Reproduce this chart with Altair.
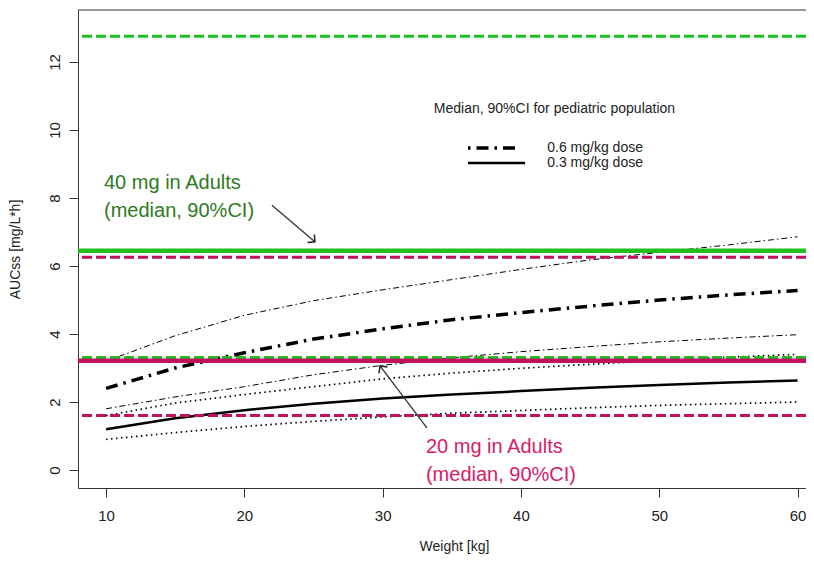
import altair as alt
import pandas as pd

# ---- data ----
weight = [10, 15, 20, 25, 30, 35, 40, 45, 50, 55, 60]
med_06 = [2.40, 3.00, 3.45, 3.85, 4.15, 4.42, 4.63, 4.82, 5.00, 5.15, 5.28]
up_06 = [3.20, 3.95, 4.55, 4.98, 5.30, 5.60, 5.90, 6.18, 6.40, 6.62, 6.86]
lo_06 = [1.80, 2.15, 2.45, 2.80, 3.08, 3.30, 3.48, 3.63, 3.77, 3.88, 3.98]
med_03 = [1.20, 1.52, 1.76, 1.95, 2.10, 2.22, 2.32, 2.42, 2.50, 2.57, 2.63]
up_03 = [1.60, 1.97, 2.22, 2.45, 2.68, 2.85, 2.99, 3.11, 3.22, 3.32, 3.40]
lo_03 = [0.90, 1.10, 1.28, 1.43, 1.56, 1.67, 1.75, 1.83, 1.90, 1.95, 2.00]

# adult reference lines
adult40_median = 6.45
adult40_ci = [3.31, 12.76]
adult20_median = 3.21
adult20_ci = [1.60, 6.26]

x_ticks = [10, 20, 30, 40, 50, 60]
y_ticks = [0, 2, 4, 6, 8, 10, 12]
x_domain = [7.97, 60.61]
y_domain = [-0.53, 13.53]

# annotation / legend anchor points (data units)
legend_title = "Median, 90%CI for pediatric population"
legend_labels = ["0.6 mg/kg dose", "0.3 mg/kg dose"]
legend_title_pos = (33.7, 10.62)
legend_rows_y = [9.47, 9.03]
legend_line_x = [36.17, 39.9]
legend_text_x = 41.9

ann40_lines = ["40 mg in Adults", "(median, 90%CI)"]
ann40_pos = (9.85, [8.44, 7.62])
ann40_arrow = [(21.99, 7.79), (25.1, 6.71)]
ann20_lines = ["20 mg in Adults", "(median, 90%CI)"]
ann20_pos = (33.13, [0.68, -0.15])
ann20_arrow = [(33.2, 1.24), (29.81, 3.06)]

GREEN = "#1fbf1f"
MAGENTA = "#c0105e"
GREEN_TXT = "#2f7a23"
PINK_TXT = "#d4206a"
FONT = "Liberation Sans"

xs = alt.Scale(domain=x_domain, nice=False, zero=False)
ys = alt.Scale(domain=y_domain, nice=False, zero=False)

X = alt.X("w:Q", scale=xs, axis=alt.Axis(values=x_ticks, title="Weight [kg]", titleX=376))
Y = alt.Y("v:Q", scale=ys, axis=alt.Axis(values=y_ticks, title="AUCss [mg/L*h]", labelAngle=270))


def curve(vals, name, width, dash=None):
    kw = dict(color="black", strokeWidth=width, clip=True)
    if dash:
        kw["strokeDash"] = dash
    df = pd.DataFrame({"w": weight, "v": vals, "s": name})
    return alt.Chart(df).mark_line(**kw).encode(x=X, y=Y)


def hline(val, color, width, dash=None):
    kw = dict(color=color, strokeWidth=width)
    if dash:
        kw["strokeDash"] = dash
    return alt.Chart(pd.DataFrame({"v": [val]})).mark_rule(**kw).encode(y=Y)


layers = [
    curve(up_06, "up06", 1, [6, 3, 1.5, 3]),
    curve(lo_06, "lo06", 1, [6, 3, 1.5, 3]),
    curve(up_03, "up03", 1.7, [1.5, 3.5]),
    curve(lo_03, "lo03", 1.7, [1.5, 3.5]),
    curve(med_06, "med06", 3.5, [12, 6, 2.5, 6]),
    curve(med_03, "med03", 2.5),
    hline(adult40_ci[1], GREEN, 3, [10, 4]),
    hline(adult40_ci[0], GREEN, 3, [10, 4]),
    hline(adult40_median, GREEN, 4.5),
    hline(adult20_ci[1], MAGENTA, 3, [10, 4]),
    hline(adult20_ci[0], MAGENTA, 3, [10, 4]),
    hline(adult20_median, MAGENTA, 4.5),
]

# top border of the plot box
layers.append(alt.Chart(pd.DataFrame({"a": [0]})).mark_rule(color="#333", strokeWidth=1).encode(
    y=alt.value(0)))

# legend
leg_title_df = pd.DataFrame({"w": [legend_title_pos[0]], "v": [legend_title_pos[1]], "t": [legend_title]})
layers.append(alt.Chart(leg_title_df).mark_text(align="left", baseline="middle", fontSize=14,
                                                font=FONT, color="#222").encode(
    x=X, y=Y, text="t:N"))
leg_text_df = pd.DataFrame({"w": [legend_text_x] * 2, "v": legend_rows_y, "t": legend_labels})
layers.append(alt.Chart(leg_text_df).mark_text(align="left", baseline="middle", fontSize=14,
                                               font=FONT, color="#222").encode(
    x=X, y=Y, text="t:N"))
leg06 = pd.DataFrame({"w": legend_line_x, "v": [legend_rows_y[0]] * 2})
layers.append(alt.Chart(leg06).mark_line(color="black", strokeWidth=3.5, strokeDash=[2.5, 6, 12, 6]).encode(
    x=X, y=Y))
leg03 = pd.DataFrame({"w": [legend_line_x[0], legend_line_x[1] + 0.4], "v": [legend_rows_y[1]] * 2})
layers.append(alt.Chart(leg03).mark_line(color="black", strokeWidth=2.5).encode(x=X, y=Y))


# annotations
def ann_text(lines, pos, color):
    df = pd.DataFrame({"w": [pos[0]] * len(lines), "v": pos[1], "t": lines})
    return alt.Chart(df).mark_text(align="left", baseline="middle", fontSize=20, font=FONT,
                                   color=color).encode(x=X, y=Y, text="t:N")


def arrow(pts, angle):
    (x0, y0), (x1, y1) = pts
    seg = pd.DataFrame({"w": [x0], "v": [y0], "w2": [x1], "v2": [y1]})
    line = alt.Chart(seg).mark_rule(color="#333", strokeWidth=1.3).encode(
        x=X, y=Y, x2="w2:Q", y2="v2:Q")
    head = alt.Chart(pd.DataFrame({"w": [x1], "v": [y1]})).mark_point(
        shape="M -1 -1 L 0 0 L -1 1", filled=False, stroke="#222", strokeWidth=1.5,
        size=110, angle=angle, opacity=1).encode(x=X, y=Y)
    return line + head


layers.append(ann_text(ann40_lines, ann40_pos, GREEN_TXT))
layers.append(ann_text(ann20_lines, ann20_pos, PINK_TXT))
layers.append(arrow(ann40_arrow, 41))
layers.append(arrow(ann20_arrow, 233))

chart = alt.layer(*layers).properties(
    width=728, height=478,
    autosize=alt.AutoSizeParams(type="none"),
    padding={"left": 70, "top": 2, "right": 0, "bottom": 70},
    background="white",
).configure_view(stroke=None).configure_axis(
    grid=False, domainColor="#333", domainWidth=1, tickColor="#333", tickWidth=1,
    labelFont=FONT, titleFont=FONT, labelColor="#222", titleColor="#222",
    labelFontSize=15, titleFontSize=14, titleFontWeight="normal",
).configure_axisX(
    tickSize=9, labelPadding=11, titlePadding=16,
).configure_axisY(
    tickSize=9, labelPadding=7, titlePadding=25,
)

chart.save("out.html", embed_options={"renderer": "svg", "actions": False})
